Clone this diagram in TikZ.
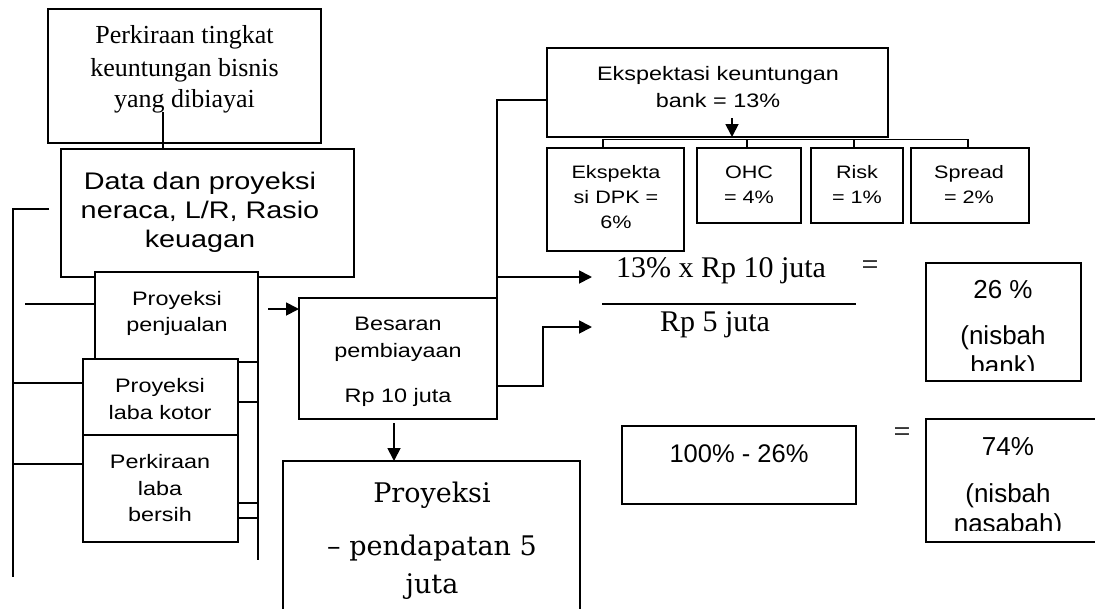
\documentclass[tikz,border=0pt]{standalone}
\usepackage{fontspec}
\setmainfont{Liberation Serif}
\newfontfamily\wsans{Liberation Sans}[FakeStretch=1.2]
\newfontfamily\nsans{Liberation Sans}
\newfontfamily\dserif{DejaVu Serif}
\usetikzlibrary{arrows.meta}
\begin{document}
\begin{tikzpicture}[x=1pt,y=-1pt,line width=1.8pt,
  bx/.style={draw,fill=white,inner sep=0pt,outer sep=0pt,anchor=north west},
  tx/.style={anchor=base,inner sep=0pt,outer sep=0pt},
  arr/.style={-{Triangle[length=13pt,width=13pt]}},
  serA/.style={font=\fontsize{26}{30}\selectfont},
  serB/.style={font=\fontsize{30}{34}\selectfont},
  serC/.style={font=\dserif\fontsize{27}{32}\selectfont},
  wsA/.style={font=\wsans\fontsize{24}{28}\selectfont},
  wsB/.style={font=\wsans\fontsize{19.5}{23}\selectfont},
  wsC/.style={font=\wsans\fontsize{18}{21}\selectfont},
  nsA/.style={font=\nsans\fontsize{26}{30}\selectfont},
  nsB/.style={font=\nsans\fontsize{25.5}{30}\selectfont}]
\useasboundingbox (0,0) rectangle (1095,608);

% boxes
\node[bx,minimum width=273pt,minimum height=134pt] (perk) at (48,9) {};
\node[bx,minimum width=293pt,minimum height=128pt] (data) at (61,149) {};
\node[bx,minimum width=163pt,minimum height=90pt] (pen) at (95,272) {};
\node[bx,minimum width=155pt,minimum height=76pt] (kotor) at (83,359) {};
\node[bx,minimum width=155pt,minimum height=107pt] (bersih) at (83,435) {};
\node[bx,minimum width=198pt,minimum height=121pt] (besar) at (299,298) {};
\node[bx,minimum width=297pt,minimum height=180pt] (pend) at (283,461) {};
\node[bx,minimum width=341pt,minimum height=89pt] (eksp) at (547,48) {};
\node[bx,minimum width=137pt,minimum height=103pt] (dpk) at (547,148) {};
\node[bx,minimum width=104pt,minimum height=75pt] (ohc) at (697,148) {};
\node[bx,minimum width=92pt,minimum height=75pt] (risk) at (811,148) {};
\node[bx,minimum width=118pt,minimum height=75pt] (spread) at (911,148) {};
\node[bx,minimum width=155pt,minimum height=118pt] (nb) at (926,263) {};
\node[bx,minimum width=234pt,minimum height=78pt] (sel) at (622,426) {};
\node[bx,minimum width=190pt,minimum height=123pt] (nn) at (926,419) {};

% texts
\node[tx,serA] (perk1) at (184.5,43) {Perkiraan tingkat};
\node[tx,serA] (perk2) at (184.5,76) {keuntungan bisnis};
\node[tx,serA] (perk3) at (184.5,107) {yang dibiayai};

\node[tx,wsA] (data1) at (200,189) {Data dan proyeksi};
\node[tx,wsA] (data2) at (200,218) {neraca, L/R, Rasio};
\node[tx,wsA] (data3) at (200,247) {keuagan};

\node[tx,wsB] (pen1) at (177,305) {Proyeksi};
\node[tx,wsB] (pen2) at (177,331) {penjualan};

\node[tx,wsB] (kot1) at (160,392) {Proyeksi};
\node[tx,wsB] (kot2) at (160,419) {laba kotor};

\node[tx,wsB] (ber1) at (160,468) {Perkiraan};
\node[tx,wsB] (ber2) at (160,495) {laba};
\node[tx,wsB] (ber3) at (160,521) {bersih};

\node[tx,wsB] (bes1) at (398,330) {Besaran};
\node[tx,wsB] (bes2) at (398,357) {pembiayaan};
\node[tx,wsB] (bes3) at (398,402) {Rp 10 juta};

\node[tx,serC] (pd1) at (432,502) {Proyeksi};
\node[tx,serC] (pd2) at (432,555) {– pendapatan 5};
\node[tx,serC] (pd3) at (432,593) {juta};

\node[tx,wsB] (ek1) at (718,80.5) {Ekspektasi keuntungan};
\node[tx,wsB] (ek2) at (718,107.5) {bank = 13\%};

\node[tx,wsC] (dpk1) at (616,178) {Ekspekta};
\node[tx,wsC] (dpk2) at (616,203) {si DPK =};
\node[tx,wsC] (dpk3) at (616,228) {6\%};
\node[tx,wsC] (ohc1) at (749,178) {OHC};
\node[tx,wsC] (ohc2) at (749,203) {= 4\%};
\node[tx,wsC] (risk1) at (857,178) {Risk};
\node[tx,wsC] (risk2) at (857,203) {= 1\%};
\node[tx,wsC] (spr1) at (969,178) {Spread};
\node[tx,wsC] (spr2) at (969,203) {= 2\%};

\node[tx,serB] (fr1) at (721,277) {13\% x Rp 10 juta};
\node[tx,serB] (eq1) at (870,274) {=};
\node[tx,serB] (fr2) at (715,331) {Rp 5 juta};
\node[tx,serB] (eq2) at (902,441) {=};

\node[tx,nsA] (nb1) at (1003,298) {26 \%};
\node[tx,nsA] (nb2) at (1003,344) {(nisbah};
\begin{scope}
  \clip (926,263) rectangle (1081,370);
  \node[tx,nsA] (nb3) at (1003,374) {bank)};
\end{scope}

\node[tx,nsB] (sel1) at (739,462) {100\% - 26\%};

\node[tx,nsA] (nn1) at (1008,455) {74\%};
\node[tx,nsA] (nn2) at (1008,502) {(nisbah};
\begin{scope}
  \clip (926,419) rectangle (1095,530);
  \node[tx,nsA] (nn3) at (1008,532) {nasabah)};
\end{scope}

% connectors
\coordinate (c1) at (163,112);
\draw (c1) -- (c1 |- data.north);
\coordinate (lbA) at (49,209);
\coordinate (lbB) at (13,209);
\coordinate (lbC) at (13,577);
\draw (lbA) -- (lbB) -- (lbC);
\coordinate (pA) at (25,304);
\draw (pA) -- (pA -| pen.west);
\coordinate (kA) at (13,383);
\draw (kA) -- (kA -| kotor.west);
\coordinate (bA) at (13,464);
\draw (bA) -- (bA -| bersih.west);
\coordinate (rbE) at (258,560);
\draw (pen.south east) -- (rbE);
\coordinate (t1) at (258,402);
\coordinate (t2) at (258,503);
\coordinate (t3) at (258,518);
\draw (t1 -| kotor.east) -- (t1);
\draw (t2 -| bersih.east) -- (t2);
\draw (t3 -| bersih.east) -- (t3);
\coordinate (aA) at (268,309);
\draw[arr] (aA) -- (aA -| besar.west);
\coordinate (dA) at (394,423);
\draw[arr] (dA) -- (dA |- pend.north);
\coordinate (eA) at (497,100);
\draw (besar.north east) -- (eA) -- (eA -| eksp.west);
\coordinate (fA) at (497,277);
\coordinate (fB) at (592,277);
\draw[arr] (fA) -- (fB);
\coordinate (gA) at (543,386);
\coordinate (gB) at (543,327);
\coordinate (gC) at (592,327);
\draw[arr] (gA -| besar.east) -- (gA) -- (gB) -- (gC);
\coordinate (hA) at (732,118);
\draw[arr] (hA) -- (hA |- eksp.south);
\coordinate (brA) at (603,139.5);
\coordinate (brB) at (968,139.5);
\coordinate (brC) at (747,139.5);
\coordinate (brD) at (854,139.5);
\draw (brA |- dpk.north) -- (brA) -- (brB) -- (brB |- spread.north);
\draw (brC) -- (brC |- ohc.north);
\draw (brD) -- (brD |- risk.north);
\coordinate (frA) at (602,304);
\coordinate (frB) at (856,304);
\draw (frA) -- (frB);
\end{tikzpicture}
\end{document}
